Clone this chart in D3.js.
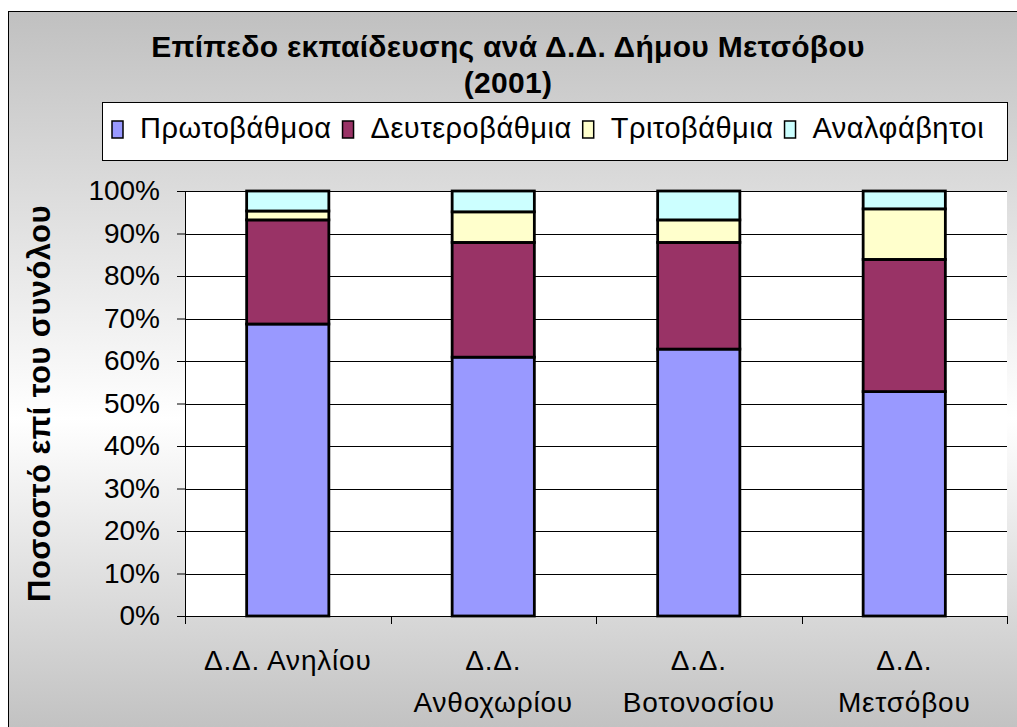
<!DOCTYPE html>
<html lang="el">
<head>
  <meta charset="UTF-8">
  <title>Επίπεδο εκπαίδευσης</title>
  <script src="https://cdnjs.cloudflare.com/ajax/libs/d3/7.8.5/d3.min.js"></script>
  <style>
    body { margin: 0; background: #fff; }
    svg text { font-family: "Liberation Sans", Arial, sans-serif; fill: #000; }
  </style>
</head>
<body>
<div id="chart"></div>
<script type="text/javascript">
  // data (percent of total)
  var categories = ["Δ.Δ. Ανηλίου", "Δ.Δ. Ανθοχωρίου", "Δ.Δ. Βοτονοσίου", "Δ.Δ. Μετσόβου"];
  var series = ["Πρωτοβάθμοα", "Δευτεροβάθμια", "Τριτοβάθμια", "Αναλφάβητοι"];
  var primary   = [68.7, 60.9, 62.8, 52.8];
  var secondary = [24.5, 27.0, 25.1, 31.1];
  var tertiary  = [2.1, 7.2, 5.3, 11.9];
  var illiterate = [4.7, 4.9, 6.8, 4.2];
  var colors = ["#9999FF", "#993366", "#FFFFCC", "#CCFFFF"];
  var yTicks = [0, 0.1, 0.2, 0.3, 0.4, 0.5, 0.6, 0.7, 0.8, 0.9, 1];

  var width = 1017, height = 727;
  var plot = { left: 185, right: 1007, top: 191, bottom: 616 };

  var rows = categories.map(function(c, i) {
    return { cat: c, "Πρωτοβάθμοα": primary[i], "Δευτεροβάθμια": secondary[i],
             "Τριτοβάθμια": tertiary[i], "Αναλφάβητοι": illiterate[i] };
  });

  var svg = d3.select("#chart").append("svg")
    .attr("width", width)
    .attr("height", height);

  // background with grey gradient
  var grad = svg.append("defs").append("linearGradient")
    .attr("id", "bg")
    .attr("gradientUnits", "userSpaceOnUse")
    .attr("x1", 0).attr("x2", 0).attr("y1", 11).attr("y2", 727);
  grad.append("stop").attr("offset", "0").attr("stop-color", "#c0c0c0");
  grad.append("stop").attr("offset", "0.57").attr("stop-color", "#ffffff");
  grad.append("stop").attr("offset", "1").attr("stop-color", "#c2c2c2");

  svg.append("rect")
    .attr("x", 8.5).attr("y", 11.5)
    .attr("width", 1030).attr("height", 740)
    .attr("fill", "url(#bg)")
    .attr("stroke", "#000")
    .attr("stroke-width", 1);

  // title
  var title = svg.append("text")
    .attr("text-anchor", "middle")
    .style("font-size", "30px")
    .style("font-weight", "bold")
    .style("letter-spacing", "0.3px");
  title.append("tspan").attr("x", 508).attr("y", 57).text("Επίπεδο εκπαίδευσης ανά Δ.Δ. Δήμου Μετσόβου");
  title.append("tspan").attr("x", 508).attr("y", 93).text("(2001)");

  // scales
  var x = d3.scaleBand()
    .domain(categories)
    .range([plot.left, plot.right])
    .paddingInner(0.6)
    .paddingOuter(0.3);

  var y = d3.scaleLinear()
    .domain([0, 1])
    .range([plot.bottom, plot.top]);

  var color = d3.scaleOrdinal().domain(series).range(colors);

  // plot area
  svg.append("rect")
    .attr("x", plot.left).attr("y", plot.top)
    .attr("width", plot.right - plot.left)
    .attr("height", plot.bottom - plot.top)
    .attr("fill", "#fff");

  // gridlines
  svg.append("g")
    .selectAll("line")
    .data(yTicks.slice(1))
    .join("line")
    .attr("x1", plot.left).attr("x2", plot.right)
    .attr("y1", function(d) { return Math.round(y(d)) + 0.5; })
    .attr("y2", function(d) { return Math.round(y(d)) + 0.5; })
    .attr("stroke", "#000")
    .attr("stroke-width", 1);

  // stacked bars
  var stacked = d3.stack().keys(series).offset(d3.stackOffsetExpand)(rows);

  svg.append("g")
    .selectAll("g")
    .data(stacked)
    .join("g")
    .attr("fill", function(d) { return color(d.key); })
    .selectAll("rect")
    .data(function(d) { return d; })
    .join("rect")
    .attr("x", function(d) { return x(d.data.cat); })
    .attr("y", function(d) { return y(d[1]); })
    .attr("width", x.bandwidth())
    .attr("height", function(d) { return y(d[0]) - y(d[1]); })
    .attr("stroke", "#000")
    .attr("stroke-width", 2.8);

  // y axis
  var yAxis = svg.append("g")
    .attr("transform", "translate(" + plot.left + ",0)")
    .call(d3.axisLeft(y).tickValues(yTicks).tickFormat(d3.format(".0%")).tickSize(8).tickPadding(17));
  yAxis.select(".domain").attr("stroke", "#000").attr("stroke-width", 1);
  yAxis.selectAll(".tick line").attr("stroke", "#000");
  yAxis.selectAll("text")
    .style("font-size", "28px")
    .style("font-family", "'Liberation Sans', Arial, sans-serif")
    .attr("fill", "#000");

  // x axis: line + ticks at category boundaries
  var step = x.step();
  var bounds = [plot.left].concat(categories.map(function(c) { return x(c) + x.bandwidth() / 2 + step / 2; }));
  svg.append("line")
    .attr("x1", plot.left).attr("x2", plot.right)
    .attr("y1", plot.bottom + 0.5).attr("y2", plot.bottom + 0.5)
    .attr("stroke", "#000");
  svg.append("g")
    .selectAll("line")
    .data(bounds)
    .join("line")
    .attr("x1", function(d) { return Math.round(d) + 0.5; })
    .attr("x2", function(d) { return Math.round(d) + 0.5; })
    .attr("y1", plot.bottom).attr("y2", plot.bottom + 8)
    .attr("stroke", "#000");

  // category labels, wrapped when wider than the category
  var catLabels = svg.append("g")
    .selectAll("text")
    .data(categories)
    .join("text")
    .attr("text-anchor", "middle")
    .style("font-size", "28px")
    .style("letter-spacing", "0.8px")
    .attr("x", function(d) { return x(d) + x.bandwidth() / 2; })
    .attr("y", 670)
    .text(function(d) { return d; });

  catLabels.each(function(d) {
    var t = d3.select(this);
    if (this.getComputedTextLength() > 185) {
      var cx = t.attr("x");
      var i = d.indexOf(" ", 3);
      t.text(null);
      t.append("tspan").attr("x", cx).attr("y", 670).text(d.slice(0, i));
      t.append("tspan").attr("x", cx).attr("y", 712).text(d.slice(i + 1));
    }
  });

  // y axis title
  svg.append("text")
    .attr("transform", "translate(50," + ((plot.top + plot.bottom) / 2) + ") rotate(-90)")
    .attr("text-anchor", "middle")
    .style("font-size", "31px")
    .style("font-weight", "bold")
    .style("letter-spacing", "0.4px")
    .text("Ποσοστό επί του συνόλου");

  // legend
  var legend = svg.append("g");
  legend.append("rect")
    .attr("x", 102.5).attr("y", 102.5)
    .attr("width", 905).attr("height", 58)
    .attr("fill", "#fff")
    .attr("stroke", "#000");

  var lx = 112;
  series.forEach(function(s) {
    legend.append("rect")
      .attr("x", lx).attr("y", 121)
      .attr("width", 11).attr("height", 17)
      .attr("fill", color(s))
      .attr("stroke", "#000")
      .attr("stroke-width", 1.5);
    var t = legend.append("text")
      .attr("x", lx + 28).attr("y", 138)
      .style("font-size", "29px")
      .style("letter-spacing", "0.5px")
      .text(s);
    lx = lx + 28 + t.node().getComputedTextLength() + 11;
  });
</script>
</body>
</html>
